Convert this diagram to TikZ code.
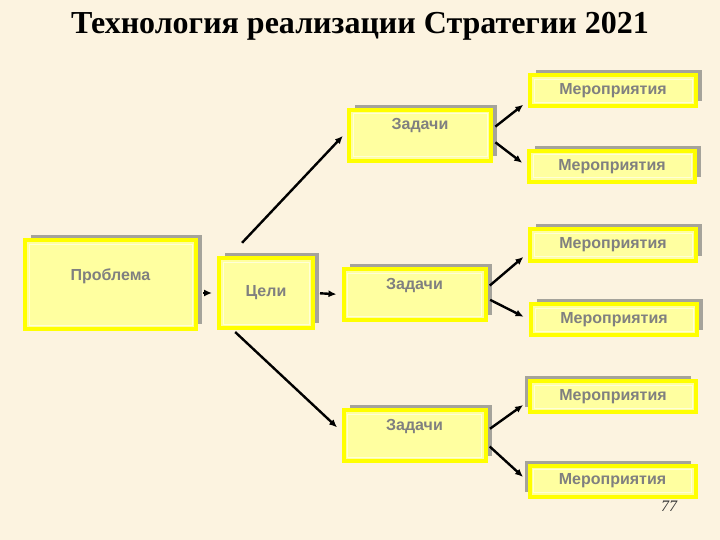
\documentclass[tikz,border=0pt]{standalone}
\usepackage{fontspec}
\setmainfont{Liberation Serif}
\setsansfont{Liberation Sans}
\usepackage{tikz}
\usetikzlibrary{positioning,arrows.meta,shadows}

\definecolor{paper}{RGB}{252,243,224}
\definecolor{boxfill}{RGB}{255,255,160}
\definecolor{boxline}{RGB}{255,255,0}
\definecolor{boxinner}{RGB}{255,255,215}
\definecolor{shade}{RGB}{165,163,155}
\definecolor{labelgray}{RGB}{128,128,128}

\begin{document}
\begin{tikzpicture}[
			x=1pt,y=-1pt,
			>={Latex[length=8pt,width=7pt]},
			shd/.style={drop shadow={shadow xshift=#1,shadow yshift=5pt,fill=shade,opacity=1}},
			box/.style={rectangle,draw=boxline,line width=4pt,fill=boxfill,inner sep=0pt,
				font=\sffamily\bfseries\fontsize{16}{18}\selectfont,text=labelgray,
				path picture={\draw[boxinner,line width=1pt]
					([shift={(4pt,-4pt)}]path picture bounding box.north west) rectangle
					([shift={(-4pt,4pt)}]path picture bounding box.south east);}},
			problem/.style={box,shd=6pt,minimum width=171pt,minimum height=89pt,
				text height=12pt,text depth=21pt},
			goal/.style={box,shd=6pt,minimum width=94pt,minimum height=70pt},
			task/.style={box,shd=6pt,minimum width=142pt,minimum height=51pt,
				text height=12pt,text depth=23pt},
			event/.style={box,shd=#1,minimum width=166pt,minimum height=31pt},
			event/.default=6pt,
			arr/.style={->,line width=2.4pt,shorten <=3pt,shorten >=6pt},
			]
			
			% Background
			\fill[paper] (0,0) rectangle (720,540);
			\useasboundingbox (0,0) rectangle (720,540);
			
			% Title
			\node[anchor=base,font=\bfseries\fontsize{32}{36}\selectfont] (title) at (360,34)
			{Технология реализации Стратегии 2021};
			
			% Page number
			\node[font=\itshape\fontsize{16}{18}\selectfont,text=black!80] (page) at (669,506) {77};
			
			% Left part
			\node[problem] (prob) at (110.5,284.5) {Проблема};
			\node[goal] (goals) at (266,293) {Цели};
			
			% Tasks
			\node[task] (task1) at (420,135.5) {Задачи};
			\node[task] (task2) at (414.5,294.5) {Задачи};
			\node[task] (task3) at (414.5,435.5) {Задачи};
			
			% Events
			\node[event] (ev1) at (613,91) {Мероприятия};
			\node[event] (ev2) at (612,166.5) {Мероприятия};
			\node[event] (ev3) at (613,245) {Мероприятия};
			\node[event] (ev4) at (614,319.5) {Мероприятия};
			\node[event=-5pt] (ev5) at (613,396.5) {Мероприятия};
			\node[event=-5pt] (ev6) at (612.5,481) {Мероприятия};
			
			% Connections
			\draw[arr,shorten <=5pt,shorten >=5pt] (prob.east |- goals.west) -- (goals.west);
			\draw[arr,shorten <=5pt,shorten >=5pt] (goals.east) -- (task2.west);
			\draw[arr] ([xshift=-26pt,yshift=11pt]goals.north) -- ([yshift=4pt]task1.west);
			\draw[arr] ([xshift=-33pt]goals.south) -- ([yshift=4pt]task3.west);
			
			\draw[arr] ([yshift=7pt]task1.east) -- ([yshift=-10pt]ev1.west);
			\draw[arr] ([yshift=-5pt]task1.east) -- (ev2.west);
			\draw[arr] ([yshift=7pt]task2.east) -- ([yshift=-8pt]ev3.west);
			\draw[arr] ([yshift=-4pt]task2.east) -- (ev4.west);
			\draw[arr] ([yshift=5pt]task3.east) -- ([yshift=-5pt]ev5.west);
			\draw[arr] ([yshift=-9pt]task3.east) -- (ev6.west);
			
		\end{tikzpicture}
\end{document}
